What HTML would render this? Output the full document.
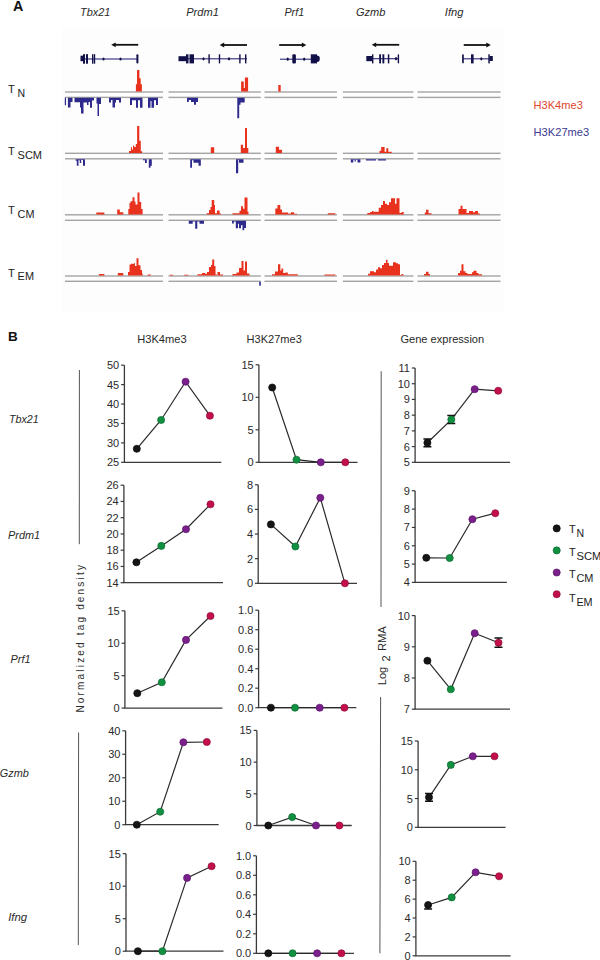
<!DOCTYPE html>
<html><head><meta charset="utf-8"><title>Figure</title>
<style>
html,body{margin:0;padding:0;background:#fff;}
svg{display:block;}
text{font-family:"Liberation Sans", sans-serif;}
</style></head>
<body>
<svg width="600" height="960" viewBox="0 0 600 960" font-family='"Liberation Sans", sans-serif'>
<rect width="600" height="960" fill="#fff"/>
<rect x="61" y="29" width="443" height="284" fill="#fefdfe"/>
<text x="13.0" y="10.6" font-size="14.3" text-anchor="start" fill="#111" font-weight="bold">A</text>
<text x="80.10000000000001" y="15.6" font-size="11" text-anchor="start" fill="#2a2a2a" font-style="italic" textLength="30.3" lengthAdjust="spacingAndGlyphs">Tbx21</text>
<text x="186.2" y="15.6" font-size="11" text-anchor="start" fill="#2a2a2a" font-style="italic" textLength="32.7" lengthAdjust="spacingAndGlyphs">Prdm1</text>
<text x="284.4" y="15.6" font-size="11" text-anchor="start" fill="#2a2a2a" font-style="italic" textLength="19.8" lengthAdjust="spacingAndGlyphs">Prf1</text>
<text x="356.0" y="15.6" font-size="11" text-anchor="start" fill="#2a2a2a" font-style="italic" textLength="29.4" lengthAdjust="spacingAndGlyphs">Gzmb</text>
<text x="444.8" y="15.6" font-size="11" text-anchor="start" fill="#2a2a2a" font-style="italic" textLength="18.6" lengthAdjust="spacingAndGlyphs">Ifng</text>
<line x1="114.2" y1="44.8" x2="138.2" y2="44.8" stroke="#111" stroke-width="1.8"/>
<polygon points="111.2,44.8 115.7,42.4 115.7,47.199999999999996" fill="#111"/>
<line x1="222.7" y1="45" x2="247" y2="45" stroke="#111" stroke-width="1.8"/>
<polygon points="219.7,45 224.2,42.6 224.2,47.4" fill="#111"/>
<line x1="279.2" y1="45" x2="303.3" y2="45" stroke="#111" stroke-width="1.8"/>
<polygon points="306.3,45 301.8,42.6 301.8,47.4" fill="#111"/>
<line x1="374.7" y1="44.8" x2="399.2" y2="44.8" stroke="#111" stroke-width="1.8"/>
<polygon points="371.7,44.8 376.2,42.4 376.2,47.199999999999996" fill="#111"/>
<line x1="463.7" y1="45" x2="487.8" y2="45" stroke="#111" stroke-width="1.8"/>
<polygon points="490.8,45 486.3,42.6 486.3,47.4" fill="#111"/>
<rect x="82" y="58.45" width="56" height="1.1" fill="#2c2a78"/>
<rect x="80.5" y="55.7" width="2.5" height="5.5" fill="#121048" rx="0"/>
<rect x="83" y="54.2" width="2" height="9.5" fill="#121048" rx="0"/>
<rect x="86" y="54.2" width="2" height="9.5" fill="#121048" rx="0"/>
<rect x="92" y="54.2" width="1.5" height="9.5" fill="#121048" rx="0"/>
<rect x="94" y="54.2" width="1.2000000000000028" height="9.5" fill="#121048" rx="0"/>
<ellipse cx="103.5" cy="59" rx="1.1" ry="1.6" fill="#121048"/>
<ellipse cx="120.5" cy="59" rx="1.1" ry="1.6" fill="#121048"/>
<rect x="136.4" y="54.3" width="2.0" height="9.100000000000001" fill="#121048" rx="0.9"/>
<rect x="186" y="58.25" width="61" height="1.1" fill="#2c2a78"/>
<rect x="178.5" y="56.2" width="7.5" height="5.0" fill="#121048" rx="0"/>
<rect x="186" y="54.3" width="2.5" height="9.100000000000001" fill="#121048" rx="0"/>
<rect x="189.5" y="54.3" width="4.5" height="9.100000000000001" fill="#121048" rx="0"/>
<ellipse cx="203.5" cy="58.8" rx="1.1" ry="1.6" fill="#121048"/>
<rect x="208.4" y="54.3" width="1.4000000000000057" height="9.100000000000001" fill="#121048" rx="0"/>
<rect x="218.8" y="54.3" width="1.3999999999999773" height="9.100000000000001" fill="#121048" rx="0"/>
<ellipse cx="229" cy="58.8" rx="1.1" ry="1.6" fill="#121048"/>
<rect x="239.2" y="54.3" width="1.4000000000000057" height="9.100000000000001" fill="#121048" rx="0"/>
<rect x="245" y="54.3" width="1.4000000000000057" height="9.100000000000001" fill="#121048" rx="0"/>
<rect x="280" y="58.650000000000006" width="31" height="1.1" fill="#2c2a78"/>
<ellipse cx="287.7" cy="59.2" rx="1.1" ry="1.6" fill="#121048"/>
<rect x="292.3" y="54.3" width="3.599999999999966" height="9.100000000000001" fill="#121048" rx="1.2"/>
<ellipse cx="304.2" cy="59.2" rx="1.1" ry="1.6" fill="#121048"/>
<rect x="310.8" y="54.3" width="6.199999999999989" height="9.100000000000001" fill="#121048" rx="0"/>
<ellipse cx="317" cy="58.8" rx="2.8" ry="3.2" fill="#121048"/>
<rect x="372" y="58.150000000000006" width="26.5" height="1.1" fill="#2c2a78"/>
<rect x="366.3" y="56" width="5.699999999999989" height="5.200000000000003" fill="#121048" rx="0"/>
<rect x="372" y="54.3" width="1.3999999999999773" height="9.100000000000001" fill="#121048" rx="0"/>
<rect x="379.2" y="54.3" width="1.8000000000000114" height="9.100000000000001" fill="#121048" rx="0"/>
<rect x="382.4" y="54.3" width="1.900000000000034" height="9.100000000000001" fill="#121048" rx="0"/>
<rect x="387.8" y="54.3" width="1.5" height="9.100000000000001" fill="#121048" rx="0"/>
<ellipse cx="396" cy="58.7" rx="1.1" ry="1.6" fill="#121048"/>
<rect x="397.7" y="54.3" width="1.400000000000034" height="9.100000000000001" fill="#121048" rx="0.7"/>
<rect x="463" y="58.25" width="27" height="1.1" fill="#2c2a78"/>
<rect x="462.1" y="54.3" width="1.6999999999999886" height="9.100000000000001" fill="#121048" rx="0.8"/>
<rect x="471" y="54.3" width="2.6000000000000227" height="9.100000000000001" fill="#121048" rx="0"/>
<ellipse cx="481.3" cy="58.8" rx="1.1" ry="1.6" fill="#121048"/>
<rect x="488.3" y="54.3" width="1.5" height="9.100000000000001" fill="#121048" rx="0"/>
<rect x="489.7" y="56" width="3.1000000000000227" height="5" fill="#121048" rx="0"/>
<text x="7.9" y="93.19999999999999" font-size="11.2" text-anchor="start" fill="#222">T</text>
<text x="17.6" y="96.89999999999999" font-size="10.8" text-anchor="start" fill="#222" textLength="7.6" lengthAdjust="spacingAndGlyphs">N</text>
<text x="7.9" y="155.4" font-size="11.2" text-anchor="start" fill="#222">T</text>
<text x="17.6" y="158.8" font-size="10.8" text-anchor="start" fill="#222" textLength="24.4" lengthAdjust="spacingAndGlyphs">SCM</text>
<text x="7.9" y="214.29999999999998" font-size="11.2" text-anchor="start" fill="#222">T</text>
<text x="17.6" y="217.8" font-size="10.8" text-anchor="start" fill="#222" textLength="16.8" lengthAdjust="spacingAndGlyphs">CM</text>
<text x="7.9" y="276.6" font-size="11.2" text-anchor="start" fill="#222">T</text>
<text x="17.6" y="280.3" font-size="10.8" text-anchor="start" fill="#222" textLength="16.4" lengthAdjust="spacingAndGlyphs">EM</text>
<rect x="65" y="91.3" width="98" height="1.4" fill="#a4a4a4"/>
<rect x="65" y="96.7" width="98" height="1.4" fill="#a4a4a4"/>
<rect x="168.5" y="91.3" width="92.30000000000001" height="1.4" fill="#a4a4a4"/>
<rect x="168.5" y="96.7" width="92.30000000000001" height="1.4" fill="#a4a4a4"/>
<rect x="264.5" y="91.3" width="72.5" height="1.4" fill="#a4a4a4"/>
<rect x="264.5" y="96.7" width="72.5" height="1.4" fill="#a4a4a4"/>
<rect x="342.8" y="91.3" width="70.69999999999999" height="1.4" fill="#a4a4a4"/>
<rect x="342.8" y="96.7" width="70.69999999999999" height="1.4" fill="#a4a4a4"/>
<rect x="417.5" y="91.3" width="83.0" height="1.4" fill="#a4a4a4"/>
<rect x="417.5" y="96.7" width="83.0" height="1.4" fill="#a4a4a4"/>
<rect x="65" y="152.60000000000002" width="98" height="1.4" fill="#a4a4a4"/>
<rect x="65" y="158.10000000000002" width="98" height="1.4" fill="#a4a4a4"/>
<rect x="168.5" y="152.60000000000002" width="92.30000000000001" height="1.4" fill="#a4a4a4"/>
<rect x="168.5" y="158.10000000000002" width="92.30000000000001" height="1.4" fill="#a4a4a4"/>
<rect x="264.5" y="152.60000000000002" width="72.5" height="1.4" fill="#a4a4a4"/>
<rect x="264.5" y="158.10000000000002" width="72.5" height="1.4" fill="#a4a4a4"/>
<rect x="342.8" y="152.60000000000002" width="70.69999999999999" height="1.4" fill="#a4a4a4"/>
<rect x="342.8" y="158.10000000000002" width="70.69999999999999" height="1.4" fill="#a4a4a4"/>
<rect x="417.5" y="152.60000000000002" width="83.0" height="1.4" fill="#a4a4a4"/>
<rect x="417.5" y="158.10000000000002" width="83.0" height="1.4" fill="#a4a4a4"/>
<rect x="65" y="214.10000000000002" width="98" height="1.4" fill="#a4a4a4"/>
<rect x="65" y="219.60000000000002" width="98" height="1.4" fill="#a4a4a4"/>
<rect x="168.5" y="214.10000000000002" width="92.30000000000001" height="1.4" fill="#a4a4a4"/>
<rect x="168.5" y="219.60000000000002" width="92.30000000000001" height="1.4" fill="#a4a4a4"/>
<rect x="264.5" y="214.10000000000002" width="72.5" height="1.4" fill="#a4a4a4"/>
<rect x="264.5" y="219.60000000000002" width="72.5" height="1.4" fill="#a4a4a4"/>
<rect x="342.8" y="214.10000000000002" width="70.69999999999999" height="1.4" fill="#a4a4a4"/>
<rect x="342.8" y="219.60000000000002" width="70.69999999999999" height="1.4" fill="#a4a4a4"/>
<rect x="417.5" y="214.10000000000002" width="83.0" height="1.4" fill="#a4a4a4"/>
<rect x="417.5" y="219.60000000000002" width="83.0" height="1.4" fill="#a4a4a4"/>
<rect x="65" y="275.3" width="98" height="1.4" fill="#a4a4a4"/>
<rect x="65" y="280.6" width="98" height="1.4" fill="#a4a4a4"/>
<rect x="168.5" y="275.3" width="92.30000000000001" height="1.4" fill="#a4a4a4"/>
<rect x="168.5" y="280.6" width="92.30000000000001" height="1.4" fill="#a4a4a4"/>
<rect x="264.5" y="275.3" width="72.5" height="1.4" fill="#a4a4a4"/>
<rect x="264.5" y="280.6" width="72.5" height="1.4" fill="#a4a4a4"/>
<rect x="342.8" y="275.3" width="70.69999999999999" height="1.4" fill="#a4a4a4"/>
<rect x="342.8" y="280.6" width="70.69999999999999" height="1.4" fill="#a4a4a4"/>
<rect x="417.5" y="275.3" width="83.0" height="1.4" fill="#a4a4a4"/>
<rect x="417.5" y="280.6" width="83.0" height="1.4" fill="#a4a4a4"/>
<path d="M135.9 91.6V84.3H137V91.6ZM137 91.6V70H139.4V91.6ZM139.4 91.6V78.3H140.7V91.6ZM140.7 91.6V84.3H141.9V91.6ZM241.1 91.6V81.4H243.8V91.6ZM243.8 91.6V88H244.9V91.6ZM244.9 91.6V77.6H248.1V91.6ZM278.3 91.6V85H280.7V91.6Z" fill="#e8321e"/>
<path d="M64.8 97.8V105.3H66V97.8ZM67.9 97.8V107.6H70.5V97.8ZM70.5 97.8V102H72.5V97.8ZM74.5 97.8V102.3H80V97.8ZM80 97.8V107.5H81V97.8ZM81 97.8V113.5H83.5V97.8ZM83.5 97.8V102.5H87V97.8ZM87 97.8V105H88.5V97.8ZM88.5 97.8V102H90V97.8ZM90 97.8V107.8H92V97.8ZM92 97.8V100.5H94V97.8ZM96.5 97.8V103.5H97.5V97.8ZM97.5 97.8V116H99V97.8ZM99 97.8V104H101V97.8ZM109 97.8V102.5H111V97.8ZM111 97.8V100H112.5V97.8ZM112.5 97.8V107.5H115V97.8ZM115 97.8V102.5H116V97.8ZM116 97.8V100H119V97.8ZM119 97.8V102.5H121V97.8ZM130 97.8V104.9H132V97.8ZM132 97.8V100.3H136V97.8ZM136 97.8V107.8H138V97.8ZM138 97.8V100.3H140V97.8ZM140 97.8V107.8H142.5V97.8ZM148 97.8V107.8H150.5V97.8ZM150.5 97.8V101H151.5V97.8ZM151.5 97.8V107.8H154V97.8ZM154 97.8V100.3H156V97.8ZM156 97.8V104.9H158V97.8ZM187 97.8V102H188.8V97.8ZM188.8 97.8V100H191V97.8ZM191 97.8V102H194V97.8ZM194 97.8V104.8H196V97.8ZM196 97.8V102H198V97.8ZM237.3 97.8V118.2H239.2V97.8ZM239.2 97.8V104.7H240.5V97.8ZM240.5 97.8V102.5H244.7V97.8Z" fill="#2d2a8c"/>
<path d="M129 152.9V151H130.9V152.9ZM130.9 152.9V147.3H132V152.9ZM132 152.9V149.5H133V152.9ZM133 152.9V145.5H134.2V152.9ZM134.2 152.9V147H135.8V152.9ZM135.8 152.9V144H137.1V152.9ZM137.1 152.9V126H139.3V152.9ZM139.3 152.9V140.7H140.8V152.9ZM140.8 152.9V151.3H142.2V152.9ZM210.8 152.9V147.2H214.2V152.9ZM240.8 152.9V144.7H243V152.9ZM243 152.9V148H245V152.9ZM245 152.9V128H247V152.9ZM247 152.9V148H248.3V152.9ZM275.8 152.9V146.7H279V152.9ZM279 152.9V149.7H282V152.9ZM379.5 152.9V150.8H381.2V152.9ZM381.2 152.9V147.1H384.6V152.9ZM384.6 152.9V151.7H386.3V152.9ZM386.3 152.9V148.3H388.3V152.9ZM388.3 152.9V151.7H391.7V152.9Z" fill="#e8321e"/>
<path d="M75.7 159.2V160.7H76.8V159.2ZM76.8 159.2V165.7H78.5V159.2ZM78.5 159.2V160.3H79.8V159.2ZM79.8 159.2V163H81.2V159.2ZM81.2 159.2V160H83V159.2ZM83 159.2V165.7H85V159.2ZM143 159.2V160.2H145V159.2ZM145 159.2V163H146.8V159.2ZM148.8 159.2V167.7H150.5V159.2ZM150.5 159.2V165.7H151.8V159.2ZM190.2 159.2V167.7H192V159.2ZM192 159.2V160.3H193.5V159.2ZM193.5 159.2V162.8H198.5V159.2ZM198.5 159.2V165.7H200.8V159.2ZM236 159.2V173.3H238.2V159.2ZM238.2 159.2V160H239V159.2ZM239 159.2V162.8H243.5V159.2ZM350.8 159.2V162.5H353.3V159.2ZM353.3 159.2V159.8H354.6V159.2ZM354.6 159.2V161.5H355.8V159.2ZM355.8 159.2V159.8H357.5V159.2ZM357.5 159.2V162.5H360.4V159.2ZM366 159.2V160.4H376V159.2ZM378 159.2V160.4H386V159.2Z" fill="#2d2a8c"/>
<path d="M96.3 214.4V212.6H104.4V214.4ZM117.2 214.4V209.6H119.8V214.4ZM119.8 214.4V212.2H123.3V214.4ZM128.3 214.4V209H129.5V214.4ZM129.5 214.4V203H130.5V214.4ZM130.5 214.4V201.2H132.5V214.4ZM132.5 214.4V197.2H134.5V214.4ZM134.5 214.4V201.5H135.5V214.4ZM135.5 214.4V204.5H137.5V214.4ZM137.5 214.4V192.4H139.5V214.4ZM139.5 214.4V202H141.2V214.4ZM141.2 214.4V209H142.6V214.4ZM206.7 214.4V213.3H209V214.4ZM209 214.4V210H210.5V214.4ZM210.5 214.4V207H211.7V214.4ZM211.7 214.4V200H214.2V214.4ZM214.2 214.4V205H215V214.4ZM215 214.4V213.3H217V214.4ZM217 214.4V210.4H219.6V214.4ZM219.6 214.4V213.5H221V214.4ZM232.5 214.4V213.3H239.5V214.4ZM239.5 214.4V210.8H241V214.4ZM241 214.4V206.3H243V214.4ZM243 214.4V208.8H244.5V214.4ZM244.5 214.4V197.5H247.5V214.4ZM247.5 214.4V211.7H248.5V214.4ZM275.3 214.4V208.4H277.5V214.4ZM277.5 214.4V204.9H280.3V214.4ZM280.3 214.4V209.5H282V214.4ZM282 214.4V212.5H288V214.4ZM288 214.4V213.5H291V214.4ZM291 214.4V212.3H294V214.4ZM294 214.4V213.8H297V214.4ZM327.8 214.4V213.3H335.3V214.4ZM367.3 214.4V213H370V214.4ZM370 214.4V212H372V214.4ZM372 214.4V211H373.3V214.4ZM373.3 214.4V211.7H378.7V214.4ZM378.7 214.4V207.7H381V214.4ZM381 214.4V205H383V214.4ZM383 214.4V201H385V214.4ZM385 214.4V203.7H387V214.4ZM387 214.4V205H389V214.4ZM389 214.4V202.3H391V214.4ZM391 214.4V198.3H395V214.4ZM395 214.4V203.7H396.5V214.4ZM396.5 214.4V198.3H399.5V214.4ZM399.5 214.4V213H401.5V214.4ZM401.5 214.4V212H403.7V214.4ZM424.8 214.4V212.5H426V214.4ZM426 214.4V209.8H428.5V214.4ZM428.5 214.4V213.2H431.5V214.4ZM458.5 214.4V209.1H460.5V214.4ZM460.5 214.4V205.8H462.5V214.4ZM462.5 214.4V209.1H466.5V214.4ZM466.5 214.4V212.9H469V214.4ZM469 214.4V211H473V214.4ZM473 214.4V212.3H475V214.4ZM475 214.4V211H478V214.4ZM478 214.4V213.5H480V214.4Z" fill="#e8321e"/>
<path d="M188.75 220.7V223.7H192.7V220.7ZM192.7 220.7V221.6H195.2V220.7ZM195.2 220.7V228.7H197.3V220.7ZM197.3 220.7V221.6H199.5V220.7ZM199.5 220.7V223.7H204V220.7ZM232 220.7V223.5H233.8V220.7ZM233.8 220.7V221.6H235.8V220.7ZM235.8 220.7V228.3H238V220.7ZM238 220.7V223.7H239V220.7ZM239 220.7V228.3H241V220.7ZM241 220.7V225.3H242.5V220.7ZM242.5 220.7V230.3H244.2V220.7ZM244.2 220.7V228H246V220.7Z" fill="#2d2a8c"/>
<path d="M98.9 275.6V273.9H104.4V275.6ZM117.8 275.6V273H123.3V275.6ZM128 275.6V272H129.5V275.6ZM129.5 275.6V264.5H131V275.6ZM131 275.6V263.8H134V275.6ZM134 275.6V263.3H135V275.6ZM135 275.6V266H136.5V275.6ZM136.5 275.6V258.3H138.5V275.6ZM138.5 275.6V265.3H140.5V275.6ZM140.5 275.6V270H142V275.6ZM142 275.6V273.5H142.6V275.6ZM147.7 275.6V274.5H150.8V275.6ZM169.7 275.6V274.7H173V275.6ZM184.2 275.6V274.7H188.3V275.6ZM197.5 275.6V274.2H202V275.6ZM202 275.6V273H205V275.6ZM205 275.6V273.7H207V275.6ZM207 275.6V272H209V275.6ZM209 275.6V267H211V275.6ZM211 275.6V265H212.2V275.6ZM212.2 275.6V259.5H214.2V275.6ZM214.2 275.6V266H215.5V275.6ZM215.5 275.6V274.5H217V275.6ZM217.5 275.6V272H220V275.6ZM220 275.6V274.5H223V275.6ZM232.5 275.6V274H236.5V275.6ZM236.5 275.6V272.5H239V275.6ZM239 275.6V268H241.5V275.6ZM241.5 275.6V261H243.5V275.6ZM243.5 275.6V270.5H245V275.6ZM245 275.6V261.5H247V275.6ZM247 275.6V273.5H249.5V275.6ZM272 275.6V274.2H275V275.6ZM275 275.6V271.5H278V275.6ZM278 275.6V264.3H280.3V275.6ZM280.3 275.6V270.5H281.4V275.6ZM281.4 275.6V268.4H283.2V275.6ZM283.2 275.6V273H285.5V275.6ZM285.5 275.6V272.5H287.8V275.6ZM287.8 275.6V274.2H297.8V275.6ZM324.5 275.6V274.5H335.3V275.6ZM368 275.6V273.7H370V275.6ZM370 275.6V271.3H374V275.6ZM374 275.6V272.3H376V275.6ZM376 275.6V269.4H378V275.6ZM378 275.6V267.3H380V275.6ZM380 275.6V268.3H382V275.6ZM382 275.6V265H384V275.6ZM384 275.6V263H386V275.6ZM386 275.6V259.7H387.5V275.6ZM387.5 275.6V263H389V275.6ZM389 275.6V265.7H393V275.6ZM393 275.6V262.3H396V275.6ZM396 275.6V263.3H398V275.6ZM398 275.6V264.3H400V275.6ZM400 275.6V275H401.5V275.6ZM401.5 275.6V273.9H403.3V275.6ZM424 275.6V274H426V275.6ZM426 275.6V271.8H428.5V275.6ZM428.5 275.6V274H430V275.6ZM458 275.6V272.9H460V275.6ZM460 275.6V270.7H461.5V275.6ZM461.5 275.6V264.2H463.5V275.6ZM463.5 275.6V271.3H465.5V275.6ZM465.5 275.6V272.9H467.5V275.6ZM467.5 275.6V274H472V275.6ZM472 275.6V272.3H473.5V275.6ZM473.5 275.6V270.7H476.5V275.6ZM476.5 275.6V272.9H478.5V275.6ZM478.5 275.6V274.3H482V275.6Z" fill="#e8321e"/>
<path d="M259.2 281.7V285.8H260.8V281.7Z" fill="#2d2a8c"/>
<text x="533.6" y="109.3" font-size="11" text-anchor="start" fill="#e0452c" textLength="49.2" lengthAdjust="spacingAndGlyphs">H3K4me3</text>
<text x="533.6" y="135.9" font-size="11" text-anchor="start" fill="#3b3a8e" textLength="55.6" lengthAdjust="spacingAndGlyphs">H3K27me3</text>
<text x="8.0" y="340.5" font-size="13.5" text-anchor="start" fill="#111" font-weight="bold">B</text>
<text x="137.2" y="343" font-size="11" text-anchor="start" fill="#2a2a2a" textLength="49.4" lengthAdjust="spacingAndGlyphs">H3K4me3</text>
<text x="246.6" y="343" font-size="11" text-anchor="start" fill="#2a2a2a" textLength="55.2" lengthAdjust="spacingAndGlyphs">H3K27me3</text>
<text x="400.4" y="343" font-size="11" text-anchor="start" fill="#2a2a2a" textLength="83.8" lengthAdjust="spacingAndGlyphs">Gene expression</text>
<line x1="124.4" y1="365.2" x2="124.4" y2="462.3" stroke="#3a3a3a" stroke-width="1.3"/>
<line x1="123.75" y1="462.3" x2="221.3" y2="462.3" stroke="#3a3a3a" stroke-width="1.3"/>
<line x1="121.10000000000001" y1="365.2" x2="124.4" y2="365.2" stroke="#3a3a3a" stroke-width="1.2"/>
<text x="119.2" y="369.2" font-size="11" text-anchor="end" fill="#2a2a2a">50</text>
<line x1="121.10000000000001" y1="384.62" x2="124.4" y2="384.62" stroke="#3a3a3a" stroke-width="1.2"/>
<text x="119.2" y="388.62" font-size="11" text-anchor="end" fill="#2a2a2a">45</text>
<line x1="121.10000000000001" y1="404.04" x2="124.4" y2="404.04" stroke="#3a3a3a" stroke-width="1.2"/>
<text x="119.2" y="408.04" font-size="11" text-anchor="end" fill="#2a2a2a">40</text>
<line x1="121.10000000000001" y1="423.46" x2="124.4" y2="423.46" stroke="#3a3a3a" stroke-width="1.2"/>
<text x="119.2" y="427.46" font-size="11" text-anchor="end" fill="#2a2a2a">35</text>
<line x1="121.10000000000001" y1="442.88" x2="124.4" y2="442.88" stroke="#3a3a3a" stroke-width="1.2"/>
<text x="119.2" y="446.88" font-size="11" text-anchor="end" fill="#2a2a2a">30</text>
<line x1="121.10000000000001" y1="462.3" x2="124.4" y2="462.3" stroke="#3a3a3a" stroke-width="1.2"/>
<text x="119.2" y="466.3" font-size="11" text-anchor="end" fill="#2a2a2a">25</text>
<path d="M136.8 448.8 L161.1 420 L185.6 381.7 L209.9 415.7" fill="none" stroke="#2a2a2a" stroke-width="1.2"/>
<circle cx="136.8" cy="448.8" r="3.55" fill="#151515" stroke="#0a0a0a" stroke-width="0.7"/>
<circle cx="161.1" cy="420" r="3.55" fill="#109040" stroke="#0b6a30" stroke-width="0.7"/>
<circle cx="185.6" cy="381.7" r="3.55" fill="#7a1f8c" stroke="#5a1468" stroke-width="0.7"/>
<circle cx="209.9" cy="415.7" r="3.55" fill="#c4104a" stroke="#8e0a36" stroke-width="0.7"/>
<line x1="258.9" y1="364.8" x2="258.9" y2="462.3" stroke="#3a3a3a" stroke-width="1.3"/>
<line x1="258.25" y1="462.3" x2="357.5" y2="462.3" stroke="#3a3a3a" stroke-width="1.3"/>
<line x1="255.59999999999997" y1="364.8" x2="258.9" y2="364.8" stroke="#3a3a3a" stroke-width="1.2"/>
<text x="253.7" y="368.8" font-size="11" text-anchor="end" fill="#2a2a2a">15</text>
<line x1="255.59999999999997" y1="397.3" x2="258.9" y2="397.3" stroke="#3a3a3a" stroke-width="1.2"/>
<text x="253.7" y="401.3" font-size="11" text-anchor="end" fill="#2a2a2a">10</text>
<line x1="255.59999999999997" y1="429.8" x2="258.9" y2="429.8" stroke="#3a3a3a" stroke-width="1.2"/>
<text x="253.7" y="433.8" font-size="11" text-anchor="end" fill="#2a2a2a">5</text>
<line x1="255.59999999999997" y1="462.3" x2="258.9" y2="462.3" stroke="#3a3a3a" stroke-width="1.2"/>
<text x="253.7" y="466.3" font-size="11" text-anchor="end" fill="#2a2a2a">0</text>
<path d="M272.2 387.5 L296.5 459.7 L320.8 462.3 L345.3 462.3" fill="none" stroke="#2a2a2a" stroke-width="1.2"/>
<circle cx="272.2" cy="387.5" r="3.55" fill="#151515" stroke="#0a0a0a" stroke-width="0.7"/>
<circle cx="296.5" cy="459.7" r="3.55" fill="#109040" stroke="#0b6a30" stroke-width="0.7"/>
<circle cx="320.8" cy="462.3" r="3.55" fill="#7a1f8c" stroke="#5a1468" stroke-width="0.7"/>
<circle cx="345.3" cy="462.3" r="3.55" fill="#c4104a" stroke="#8e0a36" stroke-width="0.7"/>
<line x1="415.1" y1="368.0" x2="415.1" y2="462.3" stroke="#3a3a3a" stroke-width="1.3"/>
<line x1="414.45000000000005" y1="462.3" x2="510.1" y2="462.3" stroke="#3a3a3a" stroke-width="1.3"/>
<line x1="411.8" y1="368.0" x2="415.1" y2="368.0" stroke="#3a3a3a" stroke-width="1.2"/>
<text x="409.90000000000003" y="372.0" font-size="11" text-anchor="end" fill="#2a2a2a">11</text>
<line x1="411.8" y1="383.72" x2="415.1" y2="383.72" stroke="#3a3a3a" stroke-width="1.2"/>
<text x="409.90000000000003" y="387.72" font-size="11" text-anchor="end" fill="#2a2a2a">10</text>
<line x1="411.8" y1="399.43" x2="415.1" y2="399.43" stroke="#3a3a3a" stroke-width="1.2"/>
<text x="409.90000000000003" y="403.43" font-size="11" text-anchor="end" fill="#2a2a2a">9</text>
<line x1="411.8" y1="415.15" x2="415.1" y2="415.15" stroke="#3a3a3a" stroke-width="1.2"/>
<text x="409.90000000000003" y="419.15" font-size="11" text-anchor="end" fill="#2a2a2a">8</text>
<line x1="411.8" y1="430.87" x2="415.1" y2="430.87" stroke="#3a3a3a" stroke-width="1.2"/>
<text x="409.90000000000003" y="434.87" font-size="11" text-anchor="end" fill="#2a2a2a">7</text>
<line x1="411.8" y1="446.58" x2="415.1" y2="446.58" stroke="#3a3a3a" stroke-width="1.2"/>
<text x="409.90000000000003" y="450.58" font-size="11" text-anchor="end" fill="#2a2a2a">6</text>
<line x1="411.8" y1="462.3" x2="415.1" y2="462.3" stroke="#3a3a3a" stroke-width="1.2"/>
<text x="409.90000000000003" y="466.3" font-size="11" text-anchor="end" fill="#2a2a2a">5</text>
<path d="M427.4 442.8 L451.3 419.6 L474.7 389.2 L498.2 390.8" fill="none" stroke="#2a2a2a" stroke-width="1.2"/>
<path d="M427.4 438.90000000000003V446.7M423.4 438.90000000000003H431.4M423.4 446.7H431.4" stroke="#111" stroke-width="1.5" fill="none"/>
<path d="M451.3 415.6V423.6M447.3 415.6H455.3M447.3 423.6H455.3" stroke="#111" stroke-width="1.5" fill="none"/>
<circle cx="427.4" cy="442.8" r="3.55" fill="#151515" stroke="#0a0a0a" stroke-width="0.7"/>
<circle cx="451.3" cy="419.6" r="3.55" fill="#109040" stroke="#0b6a30" stroke-width="0.7"/>
<circle cx="474.7" cy="389.2" r="3.55" fill="#7a1f8c" stroke="#5a1468" stroke-width="0.7"/>
<circle cx="498.2" cy="390.8" r="3.55" fill="#c4104a" stroke="#8e0a36" stroke-width="0.7"/>
<line x1="123.9" y1="485.2" x2="123.9" y2="582.7" stroke="#3a3a3a" stroke-width="1.3"/>
<line x1="123.25" y1="582.7" x2="223" y2="582.7" stroke="#3a3a3a" stroke-width="1.3"/>
<line x1="120.60000000000001" y1="485.2" x2="123.9" y2="485.2" stroke="#3a3a3a" stroke-width="1.2"/>
<text x="118.7" y="489.2" font-size="11" text-anchor="end" fill="#2a2a2a">26</text>
<line x1="120.60000000000001" y1="501.45" x2="123.9" y2="501.45" stroke="#3a3a3a" stroke-width="1.2"/>
<text x="118.7" y="505.45" font-size="11" text-anchor="end" fill="#2a2a2a">24</text>
<line x1="120.60000000000001" y1="517.7" x2="123.9" y2="517.7" stroke="#3a3a3a" stroke-width="1.2"/>
<text x="118.7" y="521.7" font-size="11" text-anchor="end" fill="#2a2a2a">22</text>
<line x1="120.60000000000001" y1="533.95" x2="123.9" y2="533.95" stroke="#3a3a3a" stroke-width="1.2"/>
<text x="118.7" y="537.95" font-size="11" text-anchor="end" fill="#2a2a2a">20</text>
<line x1="120.60000000000001" y1="550.2" x2="123.9" y2="550.2" stroke="#3a3a3a" stroke-width="1.2"/>
<text x="118.7" y="554.2" font-size="11" text-anchor="end" fill="#2a2a2a">18</text>
<line x1="120.60000000000001" y1="566.45" x2="123.9" y2="566.45" stroke="#3a3a3a" stroke-width="1.2"/>
<text x="118.7" y="570.45" font-size="11" text-anchor="end" fill="#2a2a2a">16</text>
<line x1="120.60000000000001" y1="582.7" x2="123.9" y2="582.7" stroke="#3a3a3a" stroke-width="1.2"/>
<text x="118.7" y="586.7" font-size="11" text-anchor="end" fill="#2a2a2a">14</text>
<path d="M136.4 562.3 L161.3 545.9 L186 529.2 L210.5 504.3" fill="none" stroke="#2a2a2a" stroke-width="1.2"/>
<circle cx="136.4" cy="562.3" r="3.55" fill="#151515" stroke="#0a0a0a" stroke-width="0.7"/>
<circle cx="161.3" cy="545.9" r="3.55" fill="#109040" stroke="#0b6a30" stroke-width="0.7"/>
<circle cx="186" cy="529.2" r="3.55" fill="#7a1f8c" stroke="#5a1468" stroke-width="0.7"/>
<circle cx="210.5" cy="504.3" r="3.55" fill="#c4104a" stroke="#8e0a36" stroke-width="0.7"/>
<line x1="258.2" y1="484.8" x2="258.2" y2="583.3" stroke="#3a3a3a" stroke-width="1.3"/>
<line x1="257.55" y1="583.3" x2="357" y2="583.3" stroke="#3a3a3a" stroke-width="1.3"/>
<line x1="254.89999999999998" y1="484.8" x2="258.2" y2="484.8" stroke="#3a3a3a" stroke-width="1.2"/>
<text x="253.0" y="488.8" font-size="11" text-anchor="end" fill="#2a2a2a">8</text>
<line x1="254.89999999999998" y1="509.43" x2="258.2" y2="509.43" stroke="#3a3a3a" stroke-width="1.2"/>
<text x="253.0" y="513.4300000000001" font-size="11" text-anchor="end" fill="#2a2a2a">6</text>
<line x1="254.89999999999998" y1="534.05" x2="258.2" y2="534.05" stroke="#3a3a3a" stroke-width="1.2"/>
<text x="253.0" y="538.05" font-size="11" text-anchor="end" fill="#2a2a2a">4</text>
<line x1="254.89999999999998" y1="558.67" x2="258.2" y2="558.67" stroke="#3a3a3a" stroke-width="1.2"/>
<text x="253.0" y="562.67" font-size="11" text-anchor="end" fill="#2a2a2a">2</text>
<line x1="254.89999999999998" y1="583.3" x2="258.2" y2="583.3" stroke="#3a3a3a" stroke-width="1.2"/>
<text x="253.0" y="587.3" font-size="11" text-anchor="end" fill="#2a2a2a">0</text>
<path d="M270.9 524.4 L295.4 546.5 L320.3 497.8 L344.9 583.3" fill="none" stroke="#2a2a2a" stroke-width="1.2"/>
<circle cx="270.9" cy="524.4" r="3.55" fill="#151515" stroke="#0a0a0a" stroke-width="0.7"/>
<circle cx="295.4" cy="546.5" r="3.55" fill="#109040" stroke="#0b6a30" stroke-width="0.7"/>
<circle cx="320.3" cy="497.8" r="3.55" fill="#7a1f8c" stroke="#5a1468" stroke-width="0.7"/>
<circle cx="344.9" cy="583.3" r="3.55" fill="#c4104a" stroke="#8e0a36" stroke-width="0.7"/>
<line x1="415.1" y1="490.8" x2="415.1" y2="582.4" stroke="#3a3a3a" stroke-width="1.3"/>
<line x1="414.45000000000005" y1="582.4" x2="506.9" y2="582.4" stroke="#3a3a3a" stroke-width="1.3"/>
<line x1="411.8" y1="490.8" x2="415.1" y2="490.8" stroke="#3a3a3a" stroke-width="1.2"/>
<text x="409.90000000000003" y="494.8" font-size="11" text-anchor="end" fill="#2a2a2a">9</text>
<line x1="411.8" y1="509.12" x2="415.1" y2="509.12" stroke="#3a3a3a" stroke-width="1.2"/>
<text x="409.90000000000003" y="513.12" font-size="11" text-anchor="end" fill="#2a2a2a">8</text>
<line x1="411.8" y1="527.44" x2="415.1" y2="527.44" stroke="#3a3a3a" stroke-width="1.2"/>
<text x="409.90000000000003" y="531.44" font-size="11" text-anchor="end" fill="#2a2a2a">7</text>
<line x1="411.8" y1="545.76" x2="415.1" y2="545.76" stroke="#3a3a3a" stroke-width="1.2"/>
<text x="409.90000000000003" y="549.76" font-size="11" text-anchor="end" fill="#2a2a2a">6</text>
<line x1="411.8" y1="564.08" x2="415.1" y2="564.08" stroke="#3a3a3a" stroke-width="1.2"/>
<text x="409.90000000000003" y="568.08" font-size="11" text-anchor="end" fill="#2a2a2a">5</text>
<line x1="411.8" y1="582.4" x2="415.1" y2="582.4" stroke="#3a3a3a" stroke-width="1.2"/>
<text x="409.90000000000003" y="586.4" font-size="11" text-anchor="end" fill="#2a2a2a">4</text>
<path d="M426.3 557.8 L449.7 558 L472.4 519.2 L495.3 513.2" fill="none" stroke="#2a2a2a" stroke-width="1.2"/>
<circle cx="426.3" cy="557.8" r="3.55" fill="#151515" stroke="#0a0a0a" stroke-width="0.7"/>
<circle cx="449.7" cy="558" r="3.55" fill="#109040" stroke="#0b6a30" stroke-width="0.7"/>
<circle cx="472.4" cy="519.2" r="3.55" fill="#7a1f8c" stroke="#5a1468" stroke-width="0.7"/>
<circle cx="495.3" cy="513.2" r="3.55" fill="#c4104a" stroke="#8e0a36" stroke-width="0.7"/>
<line x1="124.9" y1="610.8" x2="124.9" y2="708.1" stroke="#3a3a3a" stroke-width="1.3"/>
<line x1="124.25" y1="708.1" x2="222.4" y2="708.1" stroke="#3a3a3a" stroke-width="1.3"/>
<line x1="121.60000000000001" y1="610.8" x2="124.9" y2="610.8" stroke="#3a3a3a" stroke-width="1.2"/>
<text x="119.7" y="614.8" font-size="11" text-anchor="end" fill="#2a2a2a">15</text>
<line x1="121.60000000000001" y1="643.23" x2="124.9" y2="643.23" stroke="#3a3a3a" stroke-width="1.2"/>
<text x="119.7" y="647.23" font-size="11" text-anchor="end" fill="#2a2a2a">10</text>
<line x1="121.60000000000001" y1="675.67" x2="124.9" y2="675.67" stroke="#3a3a3a" stroke-width="1.2"/>
<text x="119.7" y="679.67" font-size="11" text-anchor="end" fill="#2a2a2a">5</text>
<line x1="121.60000000000001" y1="708.1" x2="124.9" y2="708.1" stroke="#3a3a3a" stroke-width="1.2"/>
<text x="119.7" y="712.1" font-size="11" text-anchor="end" fill="#2a2a2a">0</text>
<path d="M137.3 693.2 L161.8 682.3 L186 639.9 L210.5 616" fill="none" stroke="#2a2a2a" stroke-width="1.2"/>
<circle cx="137.3" cy="693.2" r="3.55" fill="#151515" stroke="#0a0a0a" stroke-width="0.7"/>
<circle cx="161.8" cy="682.3" r="3.55" fill="#109040" stroke="#0b6a30" stroke-width="0.7"/>
<circle cx="186" cy="639.9" r="3.55" fill="#7a1f8c" stroke="#5a1468" stroke-width="0.7"/>
<circle cx="210.5" cy="616" r="3.55" fill="#c4104a" stroke="#8e0a36" stroke-width="0.7"/>
<line x1="258.6" y1="610.2" x2="258.6" y2="707.7" stroke="#3a3a3a" stroke-width="1.3"/>
<line x1="257.95000000000005" y1="707.7" x2="356.3" y2="707.7" stroke="#3a3a3a" stroke-width="1.3"/>
<line x1="255.3" y1="610.2" x2="258.6" y2="610.2" stroke="#3a3a3a" stroke-width="1.2"/>
<text x="253.40000000000003" y="614.2" font-size="11" text-anchor="end" fill="#2a2a2a">1.0</text>
<line x1="255.3" y1="629.7" x2="258.6" y2="629.7" stroke="#3a3a3a" stroke-width="1.2"/>
<text x="253.40000000000003" y="633.7" font-size="11" text-anchor="end" fill="#2a2a2a">0.8</text>
<line x1="255.3" y1="649.2" x2="258.6" y2="649.2" stroke="#3a3a3a" stroke-width="1.2"/>
<text x="253.40000000000003" y="653.2" font-size="11" text-anchor="end" fill="#2a2a2a">0.6</text>
<line x1="255.3" y1="668.7" x2="258.6" y2="668.7" stroke="#3a3a3a" stroke-width="1.2"/>
<text x="253.40000000000003" y="672.7" font-size="11" text-anchor="end" fill="#2a2a2a">0.4</text>
<line x1="255.3" y1="688.2" x2="258.6" y2="688.2" stroke="#3a3a3a" stroke-width="1.2"/>
<text x="253.40000000000003" y="692.2" font-size="11" text-anchor="end" fill="#2a2a2a">0.2</text>
<line x1="255.3" y1="707.7" x2="258.6" y2="707.7" stroke="#3a3a3a" stroke-width="1.2"/>
<text x="253.40000000000003" y="711.7" font-size="11" text-anchor="end" fill="#2a2a2a">0.0</text>
<path d="M270.9 707.7 L295 707.7 L319.7 707.7 L344.4 707.7" fill="none" stroke="#2a2a2a" stroke-width="1.2"/>
<circle cx="270.9" cy="707.7" r="3.55" fill="#151515" stroke="#0a0a0a" stroke-width="0.7"/>
<circle cx="295" cy="707.7" r="3.55" fill="#109040" stroke="#0b6a30" stroke-width="0.7"/>
<circle cx="319.7" cy="707.7" r="3.55" fill="#7a1f8c" stroke="#5a1468" stroke-width="0.7"/>
<circle cx="344.4" cy="707.7" r="3.55" fill="#c4104a" stroke="#8e0a36" stroke-width="0.7"/>
<line x1="415.1" y1="615.6" x2="415.1" y2="709.2" stroke="#3a3a3a" stroke-width="1.3"/>
<line x1="414.45000000000005" y1="709.2" x2="510" y2="709.2" stroke="#3a3a3a" stroke-width="1.3"/>
<line x1="411.8" y1="615.6" x2="415.1" y2="615.6" stroke="#3a3a3a" stroke-width="1.2"/>
<text x="409.90000000000003" y="619.6" font-size="11" text-anchor="end" fill="#2a2a2a">10</text>
<line x1="411.8" y1="646.8" x2="415.1" y2="646.8" stroke="#3a3a3a" stroke-width="1.2"/>
<text x="409.90000000000003" y="650.8" font-size="11" text-anchor="end" fill="#2a2a2a">9</text>
<line x1="411.8" y1="678.0" x2="415.1" y2="678.0" stroke="#3a3a3a" stroke-width="1.2"/>
<text x="409.90000000000003" y="682.0" font-size="11" text-anchor="end" fill="#2a2a2a">8</text>
<line x1="411.8" y1="709.2" x2="415.1" y2="709.2" stroke="#3a3a3a" stroke-width="1.2"/>
<text x="409.90000000000003" y="713.2" font-size="11" text-anchor="end" fill="#2a2a2a">7</text>
<path d="M427.4 660.7 L450.8 689.3 L474.7 633.2 L498.5 642.7" fill="none" stroke="#2a2a2a" stroke-width="1.2"/>
<path d="M498.5 638.1V647.3000000000001M494.5 638.1H502.5M494.5 647.3000000000001H502.5" stroke="#111" stroke-width="1.5" fill="none"/>
<circle cx="427.4" cy="660.7" r="3.55" fill="#151515" stroke="#0a0a0a" stroke-width="0.7"/>
<circle cx="450.8" cy="689.3" r="3.55" fill="#109040" stroke="#0b6a30" stroke-width="0.7"/>
<circle cx="474.7" cy="633.2" r="3.55" fill="#7a1f8c" stroke="#5a1468" stroke-width="0.7"/>
<circle cx="498.5" cy="642.7" r="3.55" fill="#c4104a" stroke="#8e0a36" stroke-width="0.7"/>
<line x1="125.6" y1="730.8" x2="125.6" y2="824.7" stroke="#3a3a3a" stroke-width="1.3"/>
<line x1="124.94999999999999" y1="824.7" x2="218.7" y2="824.7" stroke="#3a3a3a" stroke-width="1.3"/>
<line x1="122.3" y1="730.8" x2="125.6" y2="730.8" stroke="#3a3a3a" stroke-width="1.2"/>
<text x="120.39999999999999" y="734.8" font-size="11" text-anchor="end" fill="#2a2a2a">40</text>
<line x1="122.3" y1="754.27" x2="125.6" y2="754.27" stroke="#3a3a3a" stroke-width="1.2"/>
<text x="120.39999999999999" y="758.27" font-size="11" text-anchor="end" fill="#2a2a2a">30</text>
<line x1="122.3" y1="777.75" x2="125.6" y2="777.75" stroke="#3a3a3a" stroke-width="1.2"/>
<text x="120.39999999999999" y="781.75" font-size="11" text-anchor="end" fill="#2a2a2a">20</text>
<line x1="122.3" y1="801.23" x2="125.6" y2="801.23" stroke="#3a3a3a" stroke-width="1.2"/>
<text x="120.39999999999999" y="805.23" font-size="11" text-anchor="end" fill="#2a2a2a">10</text>
<line x1="122.3" y1="824.7" x2="125.6" y2="824.7" stroke="#3a3a3a" stroke-width="1.2"/>
<text x="120.39999999999999" y="828.7" font-size="11" text-anchor="end" fill="#2a2a2a">0</text>
<path d="M136.8 824.7 L160.2 811.7 L183.4 742.3 L206.8 742" fill="none" stroke="#2a2a2a" stroke-width="1.2"/>
<circle cx="136.8" cy="824.7" r="3.55" fill="#151515" stroke="#0a0a0a" stroke-width="0.7"/>
<circle cx="160.2" cy="811.7" r="3.55" fill="#109040" stroke="#0b6a30" stroke-width="0.7"/>
<circle cx="183.4" cy="742.3" r="3.55" fill="#7a1f8c" stroke="#5a1468" stroke-width="0.7"/>
<circle cx="206.8" cy="742" r="3.55" fill="#c4104a" stroke="#8e0a36" stroke-width="0.7"/>
<line x1="256.9" y1="730.4" x2="256.9" y2="825.5" stroke="#3a3a3a" stroke-width="1.3"/>
<line x1="256.25" y1="825.5" x2="351.7" y2="825.5" stroke="#3a3a3a" stroke-width="1.3"/>
<line x1="253.59999999999997" y1="730.4" x2="256.9" y2="730.4" stroke="#3a3a3a" stroke-width="1.2"/>
<text x="251.7" y="734.4" font-size="11" text-anchor="end" fill="#2a2a2a">15</text>
<line x1="253.59999999999997" y1="762.1" x2="256.9" y2="762.1" stroke="#3a3a3a" stroke-width="1.2"/>
<text x="251.7" y="766.1" font-size="11" text-anchor="end" fill="#2a2a2a">10</text>
<line x1="253.59999999999997" y1="793.8" x2="256.9" y2="793.8" stroke="#3a3a3a" stroke-width="1.2"/>
<text x="251.7" y="797.8" font-size="11" text-anchor="end" fill="#2a2a2a">5</text>
<line x1="253.59999999999997" y1="825.5" x2="256.9" y2="825.5" stroke="#3a3a3a" stroke-width="1.2"/>
<text x="251.7" y="829.5" font-size="11" text-anchor="end" fill="#2a2a2a">0</text>
<path d="M268.3 825.5 L292.2 817.1 L316 825.5 L339.4 825.5" fill="none" stroke="#2a2a2a" stroke-width="1.2"/>
<circle cx="268.3" cy="825.5" r="3.55" fill="#151515" stroke="#0a0a0a" stroke-width="0.7"/>
<circle cx="292.2" cy="817.1" r="3.55" fill="#109040" stroke="#0b6a30" stroke-width="0.7"/>
<circle cx="316" cy="825.5" r="3.55" fill="#7a1f8c" stroke="#5a1468" stroke-width="0.7"/>
<circle cx="339.4" cy="825.5" r="3.55" fill="#c4104a" stroke="#8e0a36" stroke-width="0.7"/>
<line x1="418.1" y1="741.0" x2="418.1" y2="827.3" stroke="#3a3a3a" stroke-width="1.3"/>
<line x1="417.45000000000005" y1="827.3" x2="505.6" y2="827.3" stroke="#3a3a3a" stroke-width="1.3"/>
<line x1="414.8" y1="741.0" x2="418.1" y2="741.0" stroke="#3a3a3a" stroke-width="1.2"/>
<text x="412.90000000000003" y="745.0" font-size="11" text-anchor="end" fill="#2a2a2a">15</text>
<line x1="414.8" y1="769.77" x2="418.1" y2="769.77" stroke="#3a3a3a" stroke-width="1.2"/>
<text x="412.90000000000003" y="773.77" font-size="11" text-anchor="end" fill="#2a2a2a">10</text>
<line x1="414.8" y1="798.53" x2="418.1" y2="798.53" stroke="#3a3a3a" stroke-width="1.2"/>
<text x="412.90000000000003" y="802.53" font-size="11" text-anchor="end" fill="#2a2a2a">5</text>
<line x1="414.8" y1="827.3" x2="418.1" y2="827.3" stroke="#3a3a3a" stroke-width="1.2"/>
<text x="412.90000000000003" y="831.3" font-size="11" text-anchor="end" fill="#2a2a2a">0</text>
<path d="M429.0 797.3 L450.8 764.9 L472.8 756.3 L494.5 756.3" fill="none" stroke="#2a2a2a" stroke-width="1.2"/>
<path d="M429.0 793.4V801.1999999999999M425.0 793.4H433.0M425.0 801.1999999999999H433.0" stroke="#111" stroke-width="1.5" fill="none"/>
<circle cx="429.0" cy="797.3" r="3.55" fill="#151515" stroke="#0a0a0a" stroke-width="0.7"/>
<circle cx="450.8" cy="764.9" r="3.55" fill="#109040" stroke="#0b6a30" stroke-width="0.7"/>
<circle cx="472.8" cy="756.3" r="3.55" fill="#7a1f8c" stroke="#5a1468" stroke-width="0.7"/>
<circle cx="494.5" cy="756.3" r="3.55" fill="#c4104a" stroke="#8e0a36" stroke-width="0.7"/>
<line x1="126" y1="853.7" x2="126" y2="951.2" stroke="#3a3a3a" stroke-width="1.3"/>
<line x1="125.35" y1="951.2" x2="223.5" y2="951.2" stroke="#3a3a3a" stroke-width="1.3"/>
<line x1="122.7" y1="853.7" x2="126" y2="853.7" stroke="#3a3a3a" stroke-width="1.2"/>
<text x="120.8" y="857.7" font-size="11" text-anchor="end" fill="#2a2a2a">15</text>
<line x1="122.7" y1="886.2" x2="126" y2="886.2" stroke="#3a3a3a" stroke-width="1.2"/>
<text x="120.8" y="890.2" font-size="11" text-anchor="end" fill="#2a2a2a">10</text>
<line x1="122.7" y1="918.7" x2="126" y2="918.7" stroke="#3a3a3a" stroke-width="1.2"/>
<text x="120.8" y="922.7" font-size="11" text-anchor="end" fill="#2a2a2a">5</text>
<line x1="122.7" y1="951.2" x2="126" y2="951.2" stroke="#3a3a3a" stroke-width="1.2"/>
<text x="120.8" y="955.2" font-size="11" text-anchor="end" fill="#2a2a2a">0</text>
<path d="M137.9 951.2 L162.4 951.2 L187.1 877.9 L211.6 866.2" fill="none" stroke="#2a2a2a" stroke-width="1.2"/>
<circle cx="137.9" cy="951.2" r="3.55" fill="#151515" stroke="#0a0a0a" stroke-width="0.7"/>
<circle cx="162.4" cy="951.2" r="3.55" fill="#109040" stroke="#0b6a30" stroke-width="0.7"/>
<circle cx="187.1" cy="877.9" r="3.55" fill="#7a1f8c" stroke="#5a1468" stroke-width="0.7"/>
<circle cx="211.6" cy="866.2" r="3.55" fill="#c4104a" stroke="#8e0a36" stroke-width="0.7"/>
<line x1="256.4" y1="855.8" x2="256.4" y2="953.3" stroke="#3a3a3a" stroke-width="1.3"/>
<line x1="255.74999999999997" y1="953.3" x2="354" y2="953.3" stroke="#3a3a3a" stroke-width="1.3"/>
<line x1="253.09999999999997" y1="855.8" x2="256.4" y2="855.8" stroke="#3a3a3a" stroke-width="1.2"/>
<text x="251.2" y="859.8" font-size="11" text-anchor="end" fill="#2a2a2a">1.0</text>
<line x1="253.09999999999997" y1="875.3" x2="256.4" y2="875.3" stroke="#3a3a3a" stroke-width="1.2"/>
<text x="251.2" y="879.3" font-size="11" text-anchor="end" fill="#2a2a2a">0.8</text>
<line x1="253.09999999999997" y1="894.8" x2="256.4" y2="894.8" stroke="#3a3a3a" stroke-width="1.2"/>
<text x="251.2" y="898.8" font-size="11" text-anchor="end" fill="#2a2a2a">0.6</text>
<line x1="253.09999999999997" y1="914.3" x2="256.4" y2="914.3" stroke="#3a3a3a" stroke-width="1.2"/>
<text x="251.2" y="918.3" font-size="11" text-anchor="end" fill="#2a2a2a">0.4</text>
<line x1="253.09999999999997" y1="933.8" x2="256.4" y2="933.8" stroke="#3a3a3a" stroke-width="1.2"/>
<text x="251.2" y="937.8" font-size="11" text-anchor="end" fill="#2a2a2a">0.2</text>
<line x1="253.09999999999997" y1="953.3" x2="256.4" y2="953.3" stroke="#3a3a3a" stroke-width="1.2"/>
<text x="251.2" y="957.3" font-size="11" text-anchor="end" fill="#2a2a2a">0.0</text>
<path d="M268.3 953.3 L292.6 953.3 L317.1 953.3 L341.4 953.3" fill="none" stroke="#2a2a2a" stroke-width="1.2"/>
<circle cx="268.3" cy="953.3" r="3.55" fill="#151515" stroke="#0a0a0a" stroke-width="0.7"/>
<circle cx="292.6" cy="953.3" r="3.55" fill="#109040" stroke="#0b6a30" stroke-width="0.7"/>
<circle cx="317.1" cy="953.3" r="3.55" fill="#7a1f8c" stroke="#5a1468" stroke-width="0.7"/>
<circle cx="341.4" cy="953.3" r="3.55" fill="#c4104a" stroke="#8e0a36" stroke-width="0.7"/>
<line x1="415.9" y1="861.3" x2="415.9" y2="955.8" stroke="#3a3a3a" stroke-width="1.3"/>
<line x1="415.25" y1="955.8" x2="510.6" y2="955.8" stroke="#3a3a3a" stroke-width="1.3"/>
<line x1="412.59999999999997" y1="861.3" x2="415.9" y2="861.3" stroke="#3a3a3a" stroke-width="1.2"/>
<text x="410.7" y="865.3" font-size="11" text-anchor="end" fill="#2a2a2a">10</text>
<line x1="412.59999999999997" y1="880.2" x2="415.9" y2="880.2" stroke="#3a3a3a" stroke-width="1.2"/>
<text x="410.7" y="884.2" font-size="11" text-anchor="end" fill="#2a2a2a">8</text>
<line x1="412.59999999999997" y1="899.1" x2="415.9" y2="899.1" stroke="#3a3a3a" stroke-width="1.2"/>
<text x="410.7" y="903.1" font-size="11" text-anchor="end" fill="#2a2a2a">6</text>
<line x1="412.59999999999997" y1="918.0" x2="415.9" y2="918.0" stroke="#3a3a3a" stroke-width="1.2"/>
<text x="410.7" y="922.0" font-size="11" text-anchor="end" fill="#2a2a2a">4</text>
<line x1="412.59999999999997" y1="936.9" x2="415.9" y2="936.9" stroke="#3a3a3a" stroke-width="1.2"/>
<text x="410.7" y="940.9" font-size="11" text-anchor="end" fill="#2a2a2a">2</text>
<line x1="412.59999999999997" y1="955.8" x2="415.9" y2="955.8" stroke="#3a3a3a" stroke-width="1.2"/>
<text x="410.7" y="959.8" font-size="11" text-anchor="end" fill="#2a2a2a">0</text>
<path d="M428.1 905 L451.7 897.4 L475.6 872.3 L499.1 876.3" fill="none" stroke="#2a2a2a" stroke-width="1.2"/>
<path d="M428.1 905V908.9M424.1 908.9H432.1" stroke="#111" stroke-width="1.5" fill="none"/>
<circle cx="428.1" cy="905" r="3.55" fill="#151515" stroke="#0a0a0a" stroke-width="0.7"/>
<circle cx="451.7" cy="897.4" r="3.55" fill="#109040" stroke="#0b6a30" stroke-width="0.7"/>
<circle cx="475.6" cy="872.3" r="3.55" fill="#7a1f8c" stroke="#5a1468" stroke-width="0.7"/>
<circle cx="499.1" cy="876.3" r="3.55" fill="#c4104a" stroke="#8e0a36" stroke-width="0.7"/>
<text x="9.0" y="423" font-size="11" text-anchor="start" fill="#2a2a2a" font-style="italic" textLength="29.8" lengthAdjust="spacingAndGlyphs">Tbx21</text>
<text x="8.0" y="538.8" font-size="11" text-anchor="start" fill="#2a2a2a" font-style="italic" textLength="32.2" lengthAdjust="spacingAndGlyphs">Prdm1</text>
<text x="10.5" y="663" font-size="11" text-anchor="start" fill="#2a2a2a" font-style="italic" textLength="20.0" lengthAdjust="spacingAndGlyphs">Prf1</text>
<text x="-0.2" y="776.5" font-size="11" text-anchor="start" fill="#2a2a2a" font-style="italic" textLength="29.0" lengthAdjust="spacingAndGlyphs">Gzmb</text>
<text x="8.2" y="920.8" font-size="11" text-anchor="start" fill="#2a2a2a" font-style="italic" textLength="19.0" lengthAdjust="spacingAndGlyphs">Ifng</text>
<line x1="79.4" y1="370" x2="79.3" y2="544.2" stroke="#555" stroke-width="1"/>
<line x1="78.6" y1="732.5" x2="78.3" y2="945.1" stroke="#555" stroke-width="1"/>
<line x1="381.2" y1="371.3" x2="381" y2="607" stroke="#555" stroke-width="1"/>
<line x1="380.6" y1="697" x2="379.9" y2="953.3" stroke="#555" stroke-width="1"/>
<text transform="translate(84.0 712.6) rotate(-90)" font-size="10" fill="#2a2a2a" textLength="147.5" lengthAdjust="spacing">Normalized tag density</text>
<text transform="translate(386.2 685.2) rotate(-90)" font-size="11" fill="#2a2a2a">Log</text>
<text transform="translate(389.6 661.6) rotate(-90)" font-size="11" fill="#2a2a2a">2</text>
<text transform="translate(386.2 651.0) rotate(-90)" font-size="11" fill="#2a2a2a" textLength="24.8" lengthAdjust="spacingAndGlyphs">RMA</text>
<circle cx="556.7" cy="528.4" r="3.55" fill="#151515" stroke="#0a0a0a" stroke-width="0.7"/>
<circle cx="556.7" cy="550.4" r="3.55" fill="#109040" stroke="#0b6a30" stroke-width="0.7"/>
<circle cx="556.7" cy="572.5" r="3.55" fill="#7a1f8c" stroke="#5a1468" stroke-width="0.7"/>
<circle cx="556.7" cy="594.2" r="3.55" fill="#c4104a" stroke="#8e0a36" stroke-width="0.7"/>
<text x="569.0" y="533.0" font-size="11" text-anchor="start" fill="#222">T</text>
<text x="576.4" y="536.7" font-size="11" text-anchor="start" fill="#222" textLength="7.6" lengthAdjust="spacingAndGlyphs">N</text>
<text x="569.0" y="556.3" font-size="11" text-anchor="start" fill="#222">T</text>
<text x="576.4" y="559.6" font-size="11" text-anchor="start" fill="#222" textLength="25.0" lengthAdjust="spacingAndGlyphs">SCM</text>
<text x="569.0" y="578.0" font-size="11" text-anchor="start" fill="#222">T</text>
<text x="576.4" y="581.7" font-size="11" text-anchor="start" fill="#222" textLength="17.0" lengthAdjust="spacingAndGlyphs">CM</text>
<text x="569.0" y="601.7" font-size="11" text-anchor="start" fill="#222">T</text>
<text x="576.4" y="605.7" font-size="11" text-anchor="start" fill="#222" textLength="16.2" lengthAdjust="spacingAndGlyphs">EM</text>
</svg>
</body></html>
